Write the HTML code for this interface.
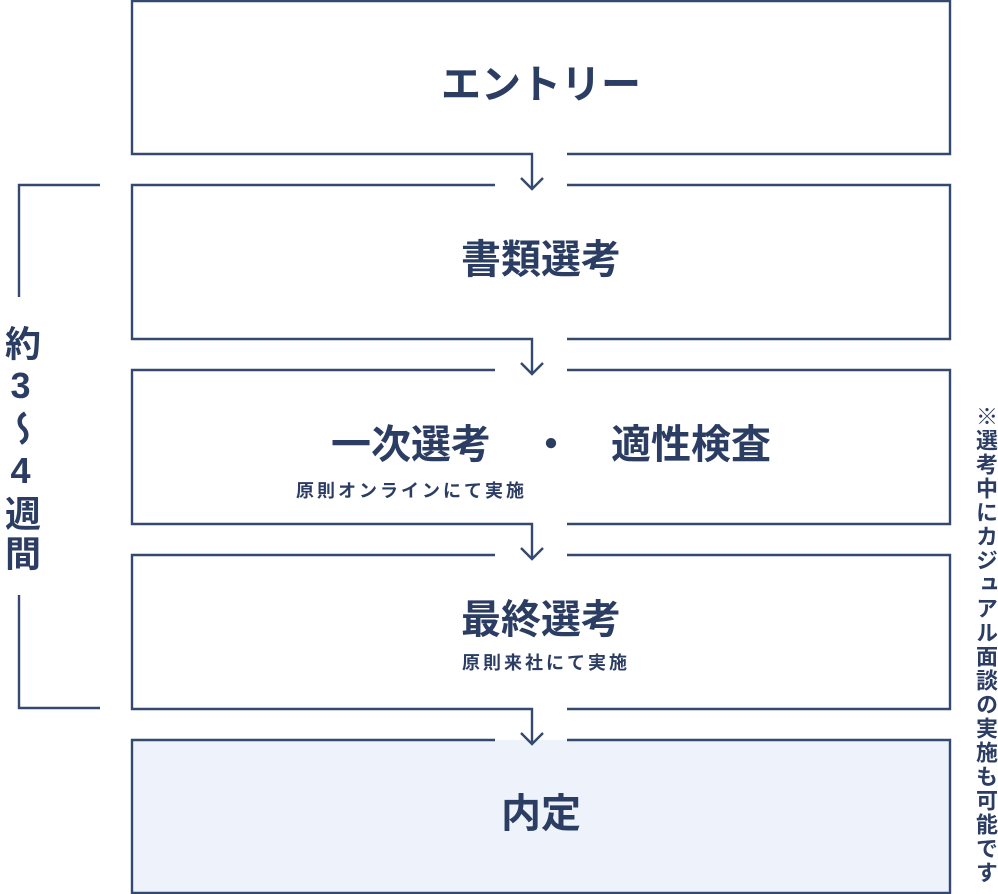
<!DOCTYPE html>
<html><head><meta charset="utf-8"><style>
html,body{margin:0;padding:0;background:#fff;}
body{width:998px;height:894px;position:relative;overflow:hidden;font-family:"Liberation Sans","Noto Sans CJK JP",sans-serif;color:#2b3d63;}
.t{position:absolute;left:131px;width:820px;text-align:center;font-weight:bold;font-size:40px;line-height:44px;}
.s{position:absolute;font-weight:bold;font-size:18px;line-height:20px;letter-spacing:3px;white-space:nowrap;}
.v{position:absolute;writing-mode:vertical-rl;text-orientation:upright;font-weight:bold;white-space:nowrap;}
</style></head><body>
<svg width="998" height="894" style="position:absolute;left:0;top:0" fill="none" stroke="#34496f" stroke-width="2.4">
<rect x="132" y="740" width="818" height="153" fill="#eef3fb" stroke="none"/>
<path d="M567,154 H950 V1 H132 V154 H532 V189"/>
<path d="M521,178 L532,189 L543,178"/>
<path d="M495,185 H132 V339 H532 V374"/><path d="M567,185 H950 V339 H567"/>
<path d="M521,363 L532,374 L543,363"/>
<path d="M495,370 H132 V524 H532 V559"/><path d="M567,370 H950 V524 H567"/>
<path d="M521,548 L532,559 L543,548"/>
<path d="M495,555 H132 V709 H532 V744"/><path d="M567,555 H950 V709 H567"/>
<path d="M521,733 L532,744 L543,733"/>
<path d="M495,740 H132 V893 H950 V740 H567"/>
<path d="M100,185 H19 V297"/>
<path d="M19,595 V708 H100"/>
</svg>
<div class="t" style="top:63px">エントリー</div>
<div class="t" style="top:238px">書類選考</div>
<div class="t" style="top:423px;left:141px">一次選考　・　適性検査</div>
<div class="s" style="left:296px;top:481px">原則オンラインにて実施</div>
<div class="t" style="top:598px">最終選考</div>
<div class="s" style="left:462px;top:653px">原則来社にて実施</div>
<div class="t" style="top:792px">内定</div>
<div class="v" style="left:1px;top:325px;font-size:36px;line-height:38px;width:38px;letter-spacing:4px;">約3〜4週間</div>
<div class="v" style="left:973px;top:405px;font-size:22px;line-height:24px;width:24px;height:489px;letter-spacing:2px;">※選考中にカジュアル面談の実施も可能です</div>
</body></html>
